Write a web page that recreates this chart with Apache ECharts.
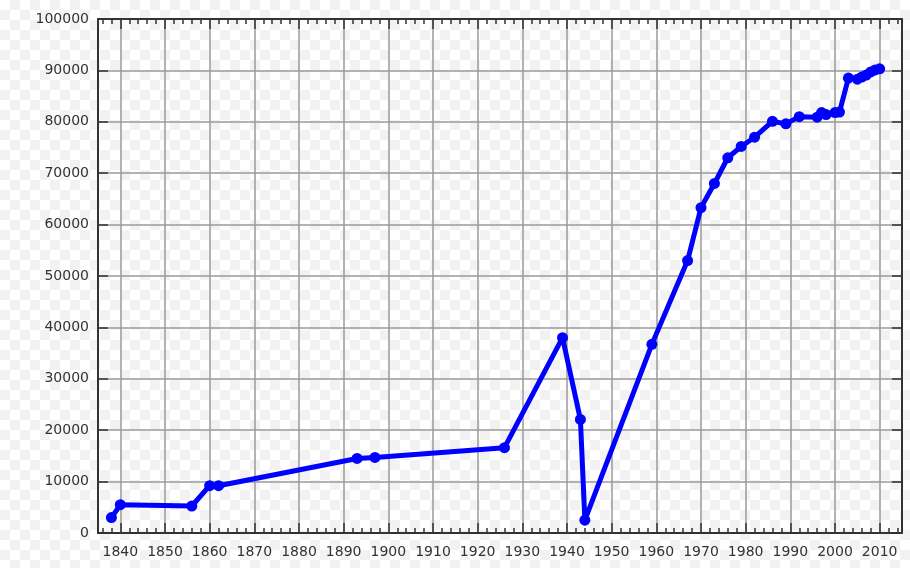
<!DOCTYPE html>
<html>
<head>
<meta charset="utf-8">
<script src="https://cdn.jsdelivr.net/npm/echarts@6/dist/echarts.min.js"></script>
<style>
  html, body { margin: 0; padding: 0; }
  body {
    width: 910px; height: 568px;
    background-color: #ffffff;
    background-image: conic-gradient(#f2f2f2 25%, #ffffff 0 50%, #f2f2f2 0 75%, #ffffff 0);
    background-size: 20px 20px;
  }
  #chart { width: 910px; height: 568px; }
</style>
</head>
<body>
<div id="chart"></div>
<script>
// 年份与人口
const years = [1838, 1840, 1856, 1860, 1862, 1893, 1897, 1926, 1939, 1943, 1944, 1959,
  1967, 1970, 1973, 1976, 1979, 1982, 1986, 1989, 1992, 1996, 1997, 1998, 2000, 2001,
  2003, 2005, 2006, 2007, 2008, 2009, 2010];
const population = [3000, 5500, 5250, 9200, 9200, 14500, 14700, 16600, 38000, 22100, 2500, 36700,
  53000, 63300, 68000, 73000, 75200, 77000, 80100, 79600, 81000, 80900, 81800, 81400, 81800, 81900,
  88500, 88300, 88700, 89100, 89700, 90100, 90300];

// x轴类目：1835 - 2015 每年一个
const firstYear = 1835;
const lastYear = 2015;
const categories = [];
for (let y = firstYear; y <= lastYear; y++) categories.push(String(y));

const isDecade = (i, v) => Number(v) % 10 === 0;
const isEven = (i, v) => Number(v) % 2 === 0;

const axisColor = '#333';
const gridColor = '#9a9a9a';
const font = 'DejaVu Sans';

const baseX = {
  type: 'category',
  data: categories,
  boundaryGap: false,
  axisLine: { show: false },
  axisLabel: { show: false },
  splitLine: { show: false },
  axisTick: { show: false },
};

const chart = echarts.init(document.getElementById('chart'));
chart.setOption({
  animation: false,
  grid: { left: 98, right: 8, top: 19, bottom: 35 },
  xAxis: [
    {
      ...baseX,
      position: 'bottom',
      axisLine: { show: true, lineStyle: { color: axisColor, width: 2 } },
      axisTick: { show: true, inside: true, length: 5, interval: isEven, lineStyle: { color: axisColor, width: 1.5 } },
      axisLabel: { show: true, interval: isDecade, margin: 12, color: '#333', fontSize: 14, fontFamily: font },
      splitLine: { show: true, interval: isDecade, lineStyle: { color: gridColor, width: 1.5 } },
    },
    {
      ...baseX,
      position: 'bottom',
      axisTick: { show: true, inside: true, length: 10, interval: isDecade, lineStyle: { color: axisColor, width: 1.5 } },
    },
    {
      ...baseX,
      position: 'top',
      axisLine: { show: true, lineStyle: { color: axisColor, width: 2 } },
      axisTick: { show: true, inside: true, length: 5, interval: isEven, lineStyle: { color: axisColor, width: 1.5 } },
    },
    {
      ...baseX,
      position: 'top',
      axisTick: { show: true, inside: true, length: 10, interval: isDecade, lineStyle: { color: axisColor, width: 1.5 } },
    },
  ],
  yAxis: [
    {
      type: 'value',
      position: 'left',
      min: 0,
      max: 100000,
      interval: 10000,
      axisLine: { show: true, lineStyle: { color: axisColor, width: 2 } },
      axisTick: { show: true, inside: true, length: 10, lineStyle: { color: axisColor, width: 1.5 } },
      axisLabel: { margin: 9, color: '#333', fontSize: 14, fontFamily: font, formatter: (v) => String(v) },
      splitLine: { show: true, lineStyle: { color: gridColor, width: 1.5 } },
    },
    {
      type: 'value',
      position: 'right',
      min: 0,
      max: 100000,
      interval: 10000,
      axisLine: { show: true, lineStyle: { color: axisColor, width: 2 } },
      axisTick: { show: true, inside: true, length: 10, lineStyle: { color: axisColor, width: 1.5 } },
      axisLabel: { show: false },
      splitLine: { show: false },
    },
  ],
  series: [
    {
      type: 'line',
      xAxisIndex: 0,
      yAxisIndex: 0,
      data: years.map((y, i) => [String(y), population[i]]),
      symbol: 'circle',
      symbolSize: 11,
      showAllSymbol: true,
      lineStyle: { color: '#0000ff', width: 5 },
      itemStyle: { color: '#0000ff' },
    },
  ],
});
</script>
</body>
</html>
